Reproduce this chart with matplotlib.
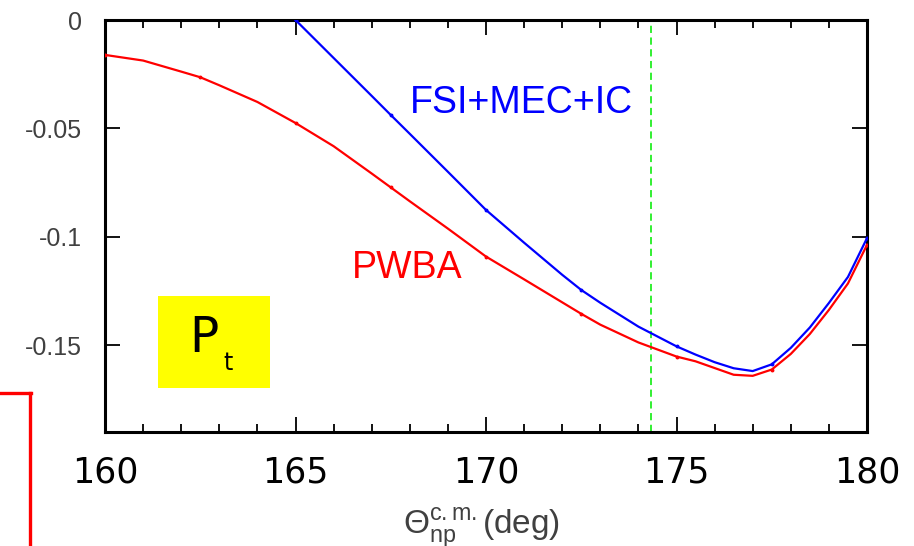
import matplotlib
matplotlib.use("Agg")
import matplotlib.pyplot as plt
from matplotlib.lines import Line2D
from matplotlib.patches import Rectangle
from matplotlib.ticker import MultipleLocator, FixedLocator

plt.rcParams["mathtext.fontset"] = "custom"
plt.rcParams["mathtext.rm"] = "Liberation Sans"
plt.rcParams["mathtext.it"] = "Liberation Sans:italic"

# ---- data ----
pwba_theta = [160, 161, 162, 162.5, 163, 164, 165, 166, 167, 167.5, 168, 169, 170,
              171, 172, 172.5, 173, 174, 175, 175.5, 176, 176.5, 177, 177.5, 178,
              178.5, 179, 179.5, 180]
pwba_pt = [-0.0161, -0.0187, -0.0238, -0.0264, -0.0301, -0.0378, -0.0475, -0.0582,
           -0.0708, -0.0772, -0.0836, -0.0962, -0.1091, -0.1196, -0.1302, -0.1355,
           -0.1405, -0.1487, -0.1552, -0.1574, -0.1605, -0.1636, -0.1641, -0.1612,
           -0.1540, -0.1448, -0.1337, -0.1215, -0.1037]

fsi_theta = [165, 166, 167, 167.5, 168, 169, 170, 171, 172, 172.5, 173, 174, 175,
             175.5, 176, 176.5, 177, 177.5, 178, 178.5, 179, 179.5, 180]
fsi_pt = [0.000, -0.0175, -0.0350, -0.0438, -0.0525, -0.0700, -0.0876, -0.1027,
          -0.1175, -0.1245, -0.1304, -0.1414, -0.1505, -0.1543, -0.1578, -0.1606,
          -0.1619, -0.1588, -0.1512, -0.1418, -0.1305, -0.1185, -0.1006]

cut_angle = 174.33
x_ticks = [160, 165, 170, 175, 180]
y_ticks = [0, -0.05, -0.1, -0.15]
y_ticklabels = ["0", "-0.05", "-0.1", "-0.15"]

W, H = 914, 546
fig = plt.figure(figsize=(W / 100, H / 100), dpi=100)
ax = fig.add_axes([105 / W, 1 - 432 / H, (867 - 105) / W, (432 - 20) / H])

ax.plot(pwba_theta, pwba_pt, color="#ff0000", lw=1.6, zorder=3,
        solid_joinstyle="round")
ax.plot(fsi_theta, fsi_pt, color="#0000ff", lw=1.6, zorder=4,
        solid_joinstyle="round")

# small point markers at every 2.5 deg
pm = [i for i, t in enumerate(pwba_theta) if (t * 2) % 5 == 0]
fm = [i for i, t in enumerate(fsi_theta) if (t * 2) % 5 == 0]
ax.plot([pwba_theta[i] for i in pm], [pwba_pt[i] for i in pm], ls="none",
        marker="o", ms=1.8, color="#ff0000", zorder=3)
ax.plot([fsi_theta[i] for i in fm], [fsi_pt[i] for i in fm], ls="none",
        marker="o", ms=1.8, color="#0000ff", zorder=4)

ax.axvline(cut_angle, color="#22ee22", lw=1.3, ls=(0, (4, 2.5)), zorder=2)

ax.set_xlim(160, 180)
ax.set_ylim(-0.19, 0)
ax.xaxis.set_major_locator(FixedLocator(x_ticks))
ax.xaxis.set_minor_locator(MultipleLocator(1))
ax.yaxis.set_major_locator(FixedLocator(y_ticks))
ax.set_yticklabels(y_ticklabels)

for s in ax.spines.values():
    s.set_linewidth(2.2)
    s.set_color("black")

ax.tick_params(which="both", direction="in", top=True, right=True, width=1.3,
               color="black")
ax.tick_params(which="major", length=11)
ax.tick_params(which="minor", length=6)
ax.tick_params(axis="y", labelsize=18, labelcolor="#404040", pad=16.5)
ax.tick_params(axis="x", labelsize=25, labelcolor="black", pad=17)
for lab in ax.get_yticklabels():
    lab.set_fontfamily("Liberation Sans")
for lab in ax.get_xticklabels():
    lab.set_fontfamily("DejaVu Sans")

# annotations
ax.text(0.546, 1 - (103 - 20) / 412, "FSI+MEC+IC", transform=ax.transAxes,
        color="#0000ff", fontsize=27, family="Liberation Sans",
        ha="center", va="center")
ax.text(0.396, 1 - (268 - 20) / 412, "PWBA", transform=ax.transAxes,
        color="#ff0000", fontsize=27, family="Liberation Sans",
        ha="center", va="center")

# yellow P_t box
bx0 = (158 - 105) / 762
by0 = (432 - 388) / 412
ax.add_patch(Rectangle((bx0, by0), (270 - 158) / 762, (388 - 296) / 412,
                       transform=ax.transAxes, facecolor="#ffff00",
                       edgecolor="none", zorder=5))
ax.text((204 - 105) / 762, (432 - 338) / 412, "P", transform=ax.transAxes,
        fontsize=35, family="DejaVu Sans", color="black", ha="center",
        va="center", zorder=6)
ax.text((228 - 105) / 762, (432 - 363) / 412, "t", transform=ax.transAxes,
        fontsize=17, family="DejaVu Sans", color="black", ha="center",
        va="center", zorder=6)

# x axis label (partly cut off at the bottom, as in the reference)
fig.text(482 / W, 1 - 535 / H, r"$\Theta^{\rm c.m.}_{\rm np}$(deg)",
         fontsize=24, color="#404040", family="Liberation Sans",
         ha="center", va="baseline")

# red frame fragment at the left
fig.add_artist(Line2D([0, 31 / W], [1 - 393 / H, 1 - 393 / H],
                      transform=fig.transFigure, color="#ff0000", lw=2.4))
fig.add_artist(Line2D([30 / W, 30 / W], [1 - 393 / H, 0],
                      transform=fig.transFigure, color="#ff0000", lw=2.4))

fig.savefig("out.png", dpi=100)
